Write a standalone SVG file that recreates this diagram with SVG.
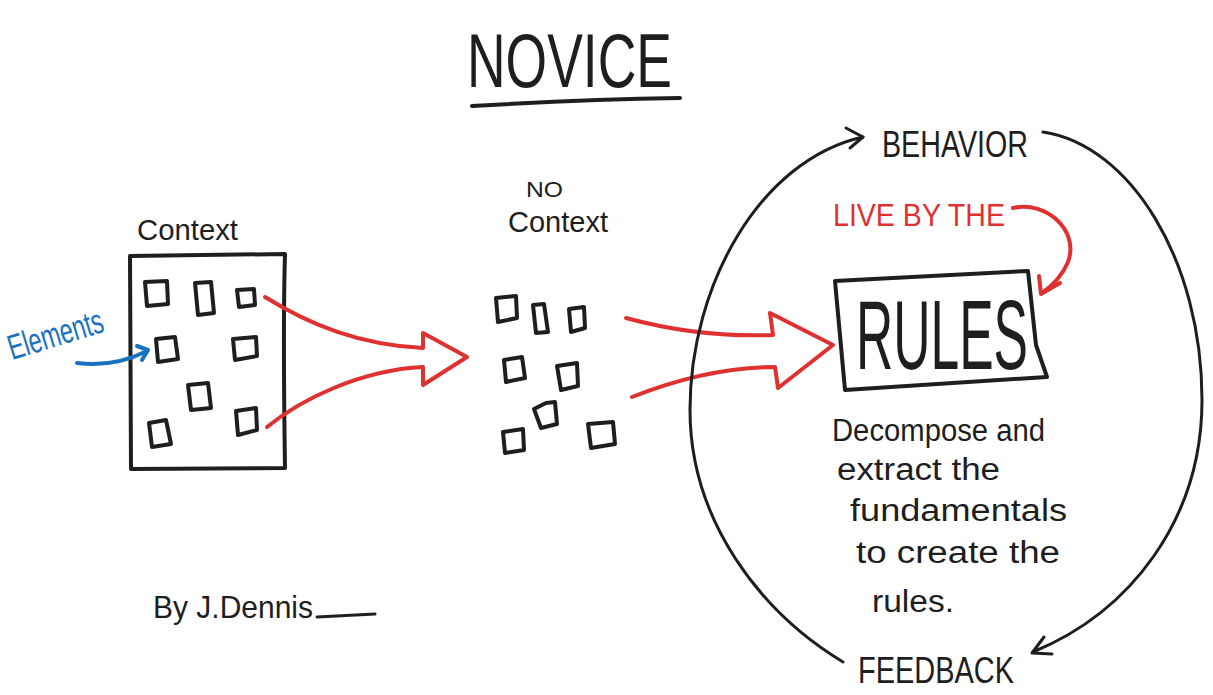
<svg xmlns="http://www.w3.org/2000/svg" width="1213" height="695" viewBox="0 0 1213 695">
<defs>
<style>
.ink{fill:none;stroke:#1e1e1e;stroke-width:4;stroke-linecap:round;stroke-linejoin:round}
.thin{fill:none;stroke:#1e1e1e;stroke-width:3;stroke-linecap:round;stroke-linejoin:round}
.red{fill:none;stroke:#e03131;stroke-width:4;stroke-linecap:round;stroke-linejoin:round}
.blue{fill:none;stroke:#1971c2;stroke-width:4;stroke-linecap:round;stroke-linejoin:round}
.sq{fill:none;stroke:#1e1e1e;stroke-width:4;stroke-linejoin:round}
.t{font-family:"Liberation Sans","DejaVu Sans",sans-serif;fill:#1e1e1e}
.tr{font-family:"Liberation Sans","DejaVu Sans",sans-serif;fill:#e03131}
.tb{font-family:"Liberation Sans","DejaVu Sans",sans-serif;fill:#1971c2}
</style>
</defs>
<rect width="1213" height="695" fill="#ffffff"/>

<g id="title">
<text class="t" x="467" y="87" font-size="76" textLength="205" lengthAdjust="spacingAndGlyphs">NOVICE</text>
<path class="ink" d="M472,106 C540,102 610,99 680,98"/>
</g>

<g id="context">
<text class="t" x="137" y="240" font-size="30" textLength="101" lengthAdjust="spacingAndGlyphs">Context</text>
<path class="ink" d="M130,256 L285,254 C283,320 284,400 285,468 L131,469 Z"/>
<path class="sq" d="M145,282 L167,281 L168,304 L147,306 Z"/>
<path class="sq" d="M195,283 L211,282 L214,313 L198,315 Z"/>
<path class="sq" d="M237,290 L254,289 L255,305 L239,307 Z"/>
<path class="sq" d="M156,339 L175,337 L178,359 L158,362 Z"/>
<path class="sq" d="M233,339 L256,337 L257,356 L235,360 Z"/>
<path class="sq" d="M188,385 L208,383 L211,408 L191,410 Z"/>
<path class="sq" d="M149,423 L166,420 L171,444 L152,447 Z"/>
<path class="sq" d="M236,411 L256,408 L257,430 L238,435 Z"/>
</g>

<g id="elements">
<text class="tb" x="12" y="360" font-size="35" textLength="98" lengthAdjust="spacingAndGlyphs" transform="rotate(-17 12 360)">Elements</text>
</g>

<g id="no-context">
<text class="t" x="526" y="197" font-size="22" textLength="37" lengthAdjust="spacingAndGlyphs">NO</text>
<text class="t" x="508" y="232" font-size="30" textLength="100" lengthAdjust="spacingAndGlyphs">Context</text>
<path class="sq" d="M496,298 L516,296 L517,318 L498,322 Z"/>
<path class="sq" d="M533,305 L544,304 L548,332 L536,333 Z"/>
<path class="sq" d="M569,309 L584,307 L585,328 L571,332 Z"/>
<path class="sq" d="M504,360 L522,357 L525,378 L506,382 Z"/>
<path class="sq" d="M557,366 L577,363 L578,386 L561,390 Z"/>
<path class="sq" d="M534,409 L546,403 L555,402 L557,424 L541,428 Z"/>
<path class="sq" d="M503,432 L523,429 L524,450 L505,453 Z"/>
<path class="sq" d="M588,424 L613,422 L615,444 L591,448 Z"/>
</g>

<g id="rules">
<path class="ink" d="M835,281 L1028,271 L1036,345 L1047,377 L845,390 Z"/>
<text class="t" x="856" y="369" font-size="98" textLength="172" lengthAdjust="spacingAndGlyphs">RULES</text>
</g>

<g id="live-by-the">
<text class="tr" x="833" y="226" font-size="32" textLength="172" lengthAdjust="spacingAndGlyphs">LIVE BY THE</text>
</g>

<g id="behavior">
<text class="t" x="882" y="157" font-size="36" textLength="146" lengthAdjust="spacingAndGlyphs">BEHAVIOR</text>
</g>

<g id="feedback">
<text class="t" x="858" y="683" font-size="37" textLength="156" lengthAdjust="spacingAndGlyphs">FEEDBACK</text>
</g>

<g id="description">
<text class="t" x="832" y="441" font-size="31" textLength="213" lengthAdjust="spacingAndGlyphs">Decompose and</text>
<text class="t" x="837" y="480" font-size="31" textLength="163" lengthAdjust="spacingAndGlyphs">extract the</text>
<text class="t" x="850" y="521" font-size="31" textLength="217" lengthAdjust="spacingAndGlyphs">fundamentals</text>
<text class="t" x="856" y="563" font-size="31" textLength="204" lengthAdjust="spacingAndGlyphs">to create the</text>
<text class="t" x="872" y="612" font-size="31" textLength="82" lengthAdjust="spacingAndGlyphs">rules.</text>
</g>

<g id="author">
<text class="t" x="153" y="618" font-size="32" textLength="160" lengthAdjust="spacingAndGlyphs">By J.Dennis</text>
<path class="thin" d="M317,617 L375,614"/>
</g>

<g id="connectors">
<path class="blue" d="M77,363 C100,366 125,362 147,351"/>
<path class="blue" d="M137,346 L148,350 L142,360"/>
<path class="red" d="M265,297 C310,325 360,345 423,348 L423,333 L467,357 L423,385 L423,367 C360,370 300,400 267,427"/>
<path class="red" d="M626,318 C670,330 720,337 773,335 L770,313 L833,345 L778,388 L775,367 C720,367 670,382 632,397"/>
<path class="red" d="M1013,208 C1045,200 1080,230 1068,262 C1062,276 1052,286 1042,293"/>
<path class="red" d="M1039,276 L1041,294 L1060,283"/>
<path class="thin" d="M1043,132 C1130,145 1202,260 1202,400 C1202,520 1130,612 1033,652"/>
<path class="thin" d="M1044,637 L1032,653 L1052,654"/>
<path class="thin" d="M843,662 C760,612 690,520 690,410 C690,285 760,160 863,137"/>
<path class="thin" d="M846,128 L863,137 L850,148"/>
</g>
</svg>
